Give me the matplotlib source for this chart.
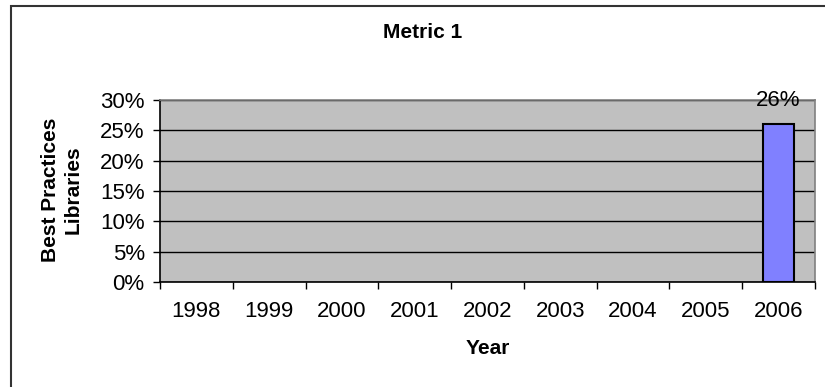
import matplotlib.pyplot as plt
from matplotlib.patches import Rectangle
from matplotlib.ticker import FixedLocator, PercentFormatter

plt.rcParams['font.family'] = ['Liberation Sans', 'DejaVu Sans']

years = ['1998', '1999', '2000', '2001', '2002', '2003', '2004', '2005', '2006']
values = [None, None, None, None, None, None, None, None, 0.26]
bar_labels = ['', '', '', '', '', '', '', '', '26%']

fig = plt.figure(figsize=(8.25, 3.87), dpi=100)
ax = fig.add_axes([160 / 825, 1 - 282 / 387, 655 / 825, 182 / 387])

# chart frame
fig.patches.append(Rectangle((11 / 825, -0.1), 1.2, 1 - 5.5 / 387 + 0.1,
                             transform=fig.transFigure, fill=False,
                             edgecolor='#333333', linewidth=1.5))

ax.set_facecolor('#C0C0C0')
ax.set_axisbelow(True)

xs = list(range(len(years)))
for x, v, lab in zip(xs, values, bar_labels):
    if v is None:
        continue
    ax.bar(x, v, width=0.43, color='#8080FF', edgecolor='black', linewidth=1.5, zorder=3)
    ax.annotate(lab, (x, v), xytext=(0, 17), textcoords='offset points',
                ha='center', va='center', fontsize=16, zorder=4, annotation_clip=False)

ax.set_xlim(-0.5, len(years) - 0.5)
ax.set_ylim(0, 0.30)
ax.set_yticks([0, 0.05, 0.10, 0.15, 0.20, 0.25, 0.30])
ax.yaxis.set_major_formatter(PercentFormatter(1.0, decimals=0))
ax.yaxis.grid(True, color='black', linewidth=1)

# ticks on category boundaries, labels at centres
ax.xaxis.set_major_locator(FixedLocator([i - 0.5 for i in range(len(years) + 1)]))
ax.xaxis.set_major_formatter(plt.NullFormatter())
ax.xaxis.set_minor_locator(FixedLocator(xs))
ax.set_xticklabels(years, minor=True)
ax.tick_params(axis='x', which='major', direction='out', length=5, width=1, color='black')
ax.tick_params(axis='x', which='minor', length=0, pad=14, labelsize=16)
ax.tick_params(axis='y', direction='out', length=5, width=1, pad=6, labelsize=16)

ax.spines['left'].set_color('black')
ax.spines['bottom'].set_color('black')
ax.spines['top'].set_color('#808080')
ax.spines['right'].set_color('#808080')
for s in ax.spines.values():
    s.set_linewidth(1.2)

fig.text(423 / 825, 1 - 32 / 387, 'Metric 1', ha='center', va='center',
         fontsize=15, fontweight='bold')
fig.text(488 / 825, 1 - 349 / 387, 'Year', ha='center', va='center',
         fontsize=15, fontweight='bold')
fig.text(62 / 825, 1 - 190 / 387, 'Best Practices\nLibraries', ha='center', va='center',
         rotation=90, fontsize=15, fontweight='bold', linespacing=1.25)

fig.savefig('out.png', dpi=100)
